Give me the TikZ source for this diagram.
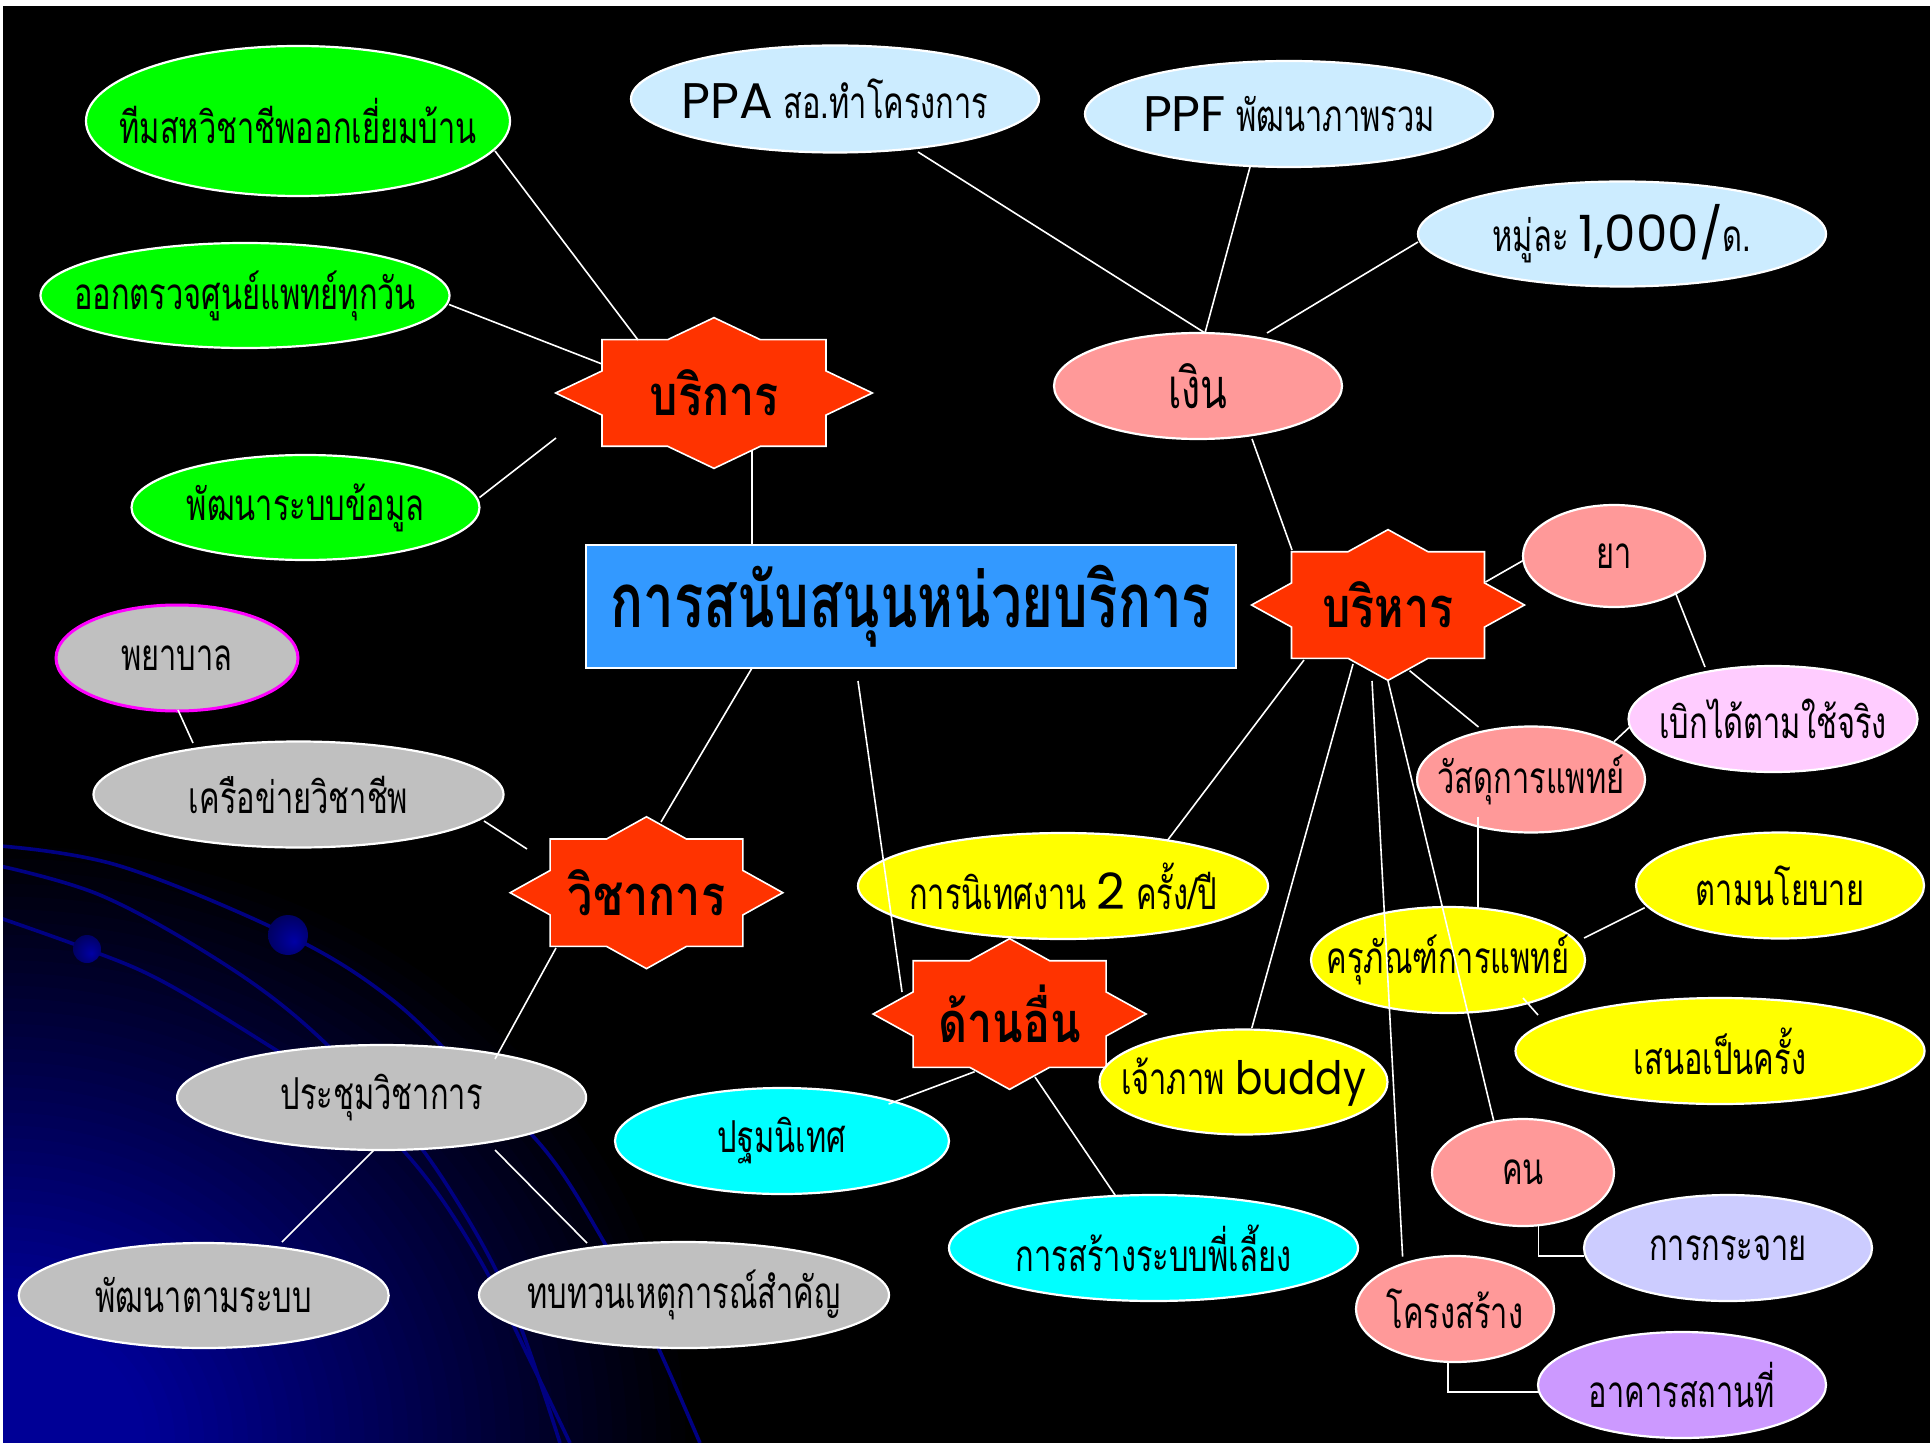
\documentclass[tikz,border=0pt]{standalone}
\usepackage{fontspec}
\usetikzlibrary{calc,shapes.geometric}
\newfontfamily\thaifont[Script=Thai,FakeStretch=0.7]{Loma}
\newfontfamily\thaistar[Script=Thai,FakeStretch=0.8]{Loma}
\newfontfamily\thaihead[Script=Thai,FakeStretch=0.72]{Loma}
\newfontfamily\latinfont{Poppins}
\newfontfamily\latinnarrow[FakeStretch=0.88]{Poppins}

\definecolor{leafgreen}{RGB}{0,255,0}
\definecolor{skyblue}{RGB}{204,236,255}
\definecolor{salmon}{RGB}{255,153,153}
\definecolor{starred}{RGB}{255,51,0}
\definecolor{hubblue}{RGB}{51,153,255}
\definecolor{silver}{RGB}{192,192,192}
\definecolor{lemon}{RGB}{255,255,0}
\definecolor{aqua}{RGB}{0,255,255}
\definecolor{blush}{RGB}{255,204,255}
\definecolor{lavender}{RGB}{204,204,255}
\definecolor{violet}{RGB}{204,153,255}
\definecolor{rosebrd}{RGB}{255,0,255}
\definecolor{glowblue}{RGB}{0,0,150}
\definecolor{swirl}{RGB}{0,0,130}
\definecolor{orbhi}{RGB}{0,0,165}
\definecolor{orblo}{RGB}{0,0,95}

\pgfdeclareradialshading{orb}{\pgfpoint{8bp}{-8bp}}{color(0bp)=(orbhi); color(30bp)=(orblo); color(50bp)=(orblo)}

\tikzset{
  bubble/.style={ellipse, draw=white, line width=1.1pt, inner sep=0pt},
  every label/.style={inner sep=0pt, text=black, font=\thaifont\fontsize{22}{26}\selectfont},
  link/.style={draw=white, line width=0.8pt},
  starfill/.style={fill=starred, draw=white, line width=0.8pt},
  startext/.style={inner sep=0pt, text=black, font=\thaistar\bfseries\fontsize{28}{32}\selectfont},
  swirlline/.style={draw=swirl, line width=1.8pt},
}

% eight-pointed star made of two overlapping squares, stretched sideways
\newcommand\octagram[6]{%
  \path[starfill, shift={(#2,#3)}, xscale=#4, yscale=#5]
    (0,-1.4142) -- (0.4142,-1) -- (1,-1) -- (1,-0.4142) -- (1.4142,0) -- (1,0.4142)
    -- (1,1) -- (0.4142,1) -- (0,1.4142) -- (-0.4142,1) -- (-1,1) -- (-1,0.4142)
    -- (-1.4142,0) -- (-1,-0.4142) -- (-1,-1) -- (-0.4142,-1) -- cycle;
  \node[startext] (#1) at (#2,#3) {#6};
}
\newcommand\lat[1]{{\latinfont\fontsize{25}{28}\selectfont #1}}

\begin{document}
\begin{tikzpicture}[x=0.5pt,y=-0.5pt]
\useasboundingbox (0,0) rectangle (1930,1443);
\fill[white] (0,0) rectangle (1930,1443);
\fill[black] (3,6) rectangle (1930,1443);

% glow and swirls in the lower left corner
\begin{scope}
  \clip (3,6) rectangle (1930,1443);
  \foreach \k in {0,...,47} {
    \pgfmathsetmacro\t{1-\k/48}
    \pgfmathsetmacro\f{min(100,max(0,(1-\t)/0.78*100))}
    \pgfmathsetmacro\rx{\t*350}
    \pgfmathsetmacro\ry{\t*305}
    \fill[glowblue!\f!black] (0,1443) ellipse [x radius=\rx pt, y radius=\ry pt];
  }
  \draw[swirlline] plot[smooth, tension=0.6] coordinates
    {(0,846) (120,866) (288,935) (390,998) (470,1075) (545,1150) (600,1235) (650,1330) (700,1443)};
  \draw[swirlline] plot[smooth, tension=0.6] coordinates
    {(0,866) (100,895) (210,955) (300,1020) (390,1110) (450,1190) (510,1300) (560,1443)};
  \draw[swirlline] plot[smooth, tension=0.6] coordinates
    {(0,918) (87,949) (160,980) (260,1040) (350,1100) (420,1170) (480,1260) (530,1360) (570,1443)};
  \shade[shading=orb] (288,935) circle [radius=10pt];
  \shade[shading=orb] (87,949) circle [radius=7pt];
\end{scope}

% category stars
\octagram{svc}{714}{393}{112}{53.3}{บริการ}
\octagram{adm}{1388}{605}{96.5}{53.3}{บริหาร}
\octagram{other}{1009.6}{1014}{96.5}{53.3}{ด้านอื่น}
\octagram{acad}{646.5}{892.7}{96.4}{53.7}{วิชาการ}

% central box
\node[draw=white, fill=hubblue, line width=1.1pt, minimum width=325pt, minimum height=61.5pt,
      inner sep=0pt, text=black, font=\thaihead\bfseries\fontsize{38}{42}\selectfont]
      (hub) at (911,606.5) {การสนับสนุนหน่วยบริการ};

% service
\node[bubble, fill=leafgreen, minimum width=212pt, minimum height=75pt, label={center:{ทีมสหวิชาชีพออกเยี่ยมบ้าน}}] (g1) at (298,121) {};
\node[bubble, fill=leafgreen, minimum width=204.5pt, minimum height=52.5pt, label={center:{ออกตรวจศูนย์แพทย์ทุกวัน}}] (g2) at (245,295.5) {};
\node[bubble, fill=leafgreen, minimum width=174pt, minimum height=52.5pt, label={center:{พัฒนาระบบข้อมูล}}] (g3) at (305.5,507.5) {};

% money
\node[bubble, fill=skyblue, minimum width=204pt, minimum height=53.5pt, label={center:{\lat{PPA} สอ.ทำโครงการ}}] (ppa) at (835,99) {};
\node[bubble, fill=skyblue, minimum width=204pt, minimum height=53pt, label={center:{\lat{PPF} พัฒนาภาพรวม}}] (ppf) at (1289,114) {};
\node[bubble, fill=skyblue, minimum width=204pt, minimum height=52.5pt, label={center:{หมู่ละ \lat{1,000/}ด.}}] (moo) at (1622,234) {};
\node[bubble, fill=salmon, minimum width=144pt, minimum height=53pt, label={[font=\thaifont\fontsize{28}{30}\selectfont]center:{เงิน}}] (money) at (1198,386) {};

% administration
\node[bubble, fill=salmon, minimum width=91pt, minimum height=51pt, label={center:{ยา}}] (ya) at (1614,556) {};
\node[bubble, fill=blush, minimum width=144.5pt, minimum height=53pt, label={center:{เบิกได้ตามใช้จริง}}] (bek) at (1773,719) {};
\node[bubble, fill=salmon, minimum width=114pt, minimum height=53pt, label={center:{วัสดุการแพทย์}}] (wasadu) at (1531,779.5) {};
\node[bubble, fill=lemon, minimum width=144pt, minimum height=53pt, label={center:{ตามนโยบาย}}] (nayobai) at (1780,885.5) {};
\node[bubble, fill=lemon, minimum width=137pt, minimum height=53pt, label={center:{ครุภัณฑ์การแพทย์}}] (krupan) at (1448,960) {};
\node[bubble, fill=lemon, minimum width=204.5pt, minimum height=53pt, label={center:{เสนอเป็นครั้ง}}] (sanoe) at (1720,1051) {};
\node[bubble, fill=salmon, minimum width=91pt, minimum height=53.5pt, label={center:{คน}}] (khon) at (1523,1172.5) {};
\node[bubble, fill=lavender, minimum width=144pt, minimum height=53pt, label={center:{การกระจาย}}] (krajai) at (1728,1248) {};
\node[bubble, fill=salmon, minimum width=99pt, minimum height=53pt, label={center:{โครงสร้าง}}] (kroang) at (1455,1309) {};
\node[bubble, fill=violet, minimum width=144pt, minimum height=53pt, label={center:{อาคารสถานที่}}] (akan) at (1682,1385) {};
\node[bubble, fill=lemon, minimum width=144pt, minimum height=52.5pt, label={center:{เจ้าภาพ {\latinnarrow\fontsize{23}{26}\selectfont buddy}}}] (buddy) at (1243.5,1082) {};
\node[bubble, fill=lemon, minimum width=205pt, minimum height=53pt, label={center:{การนิเทศงาน \lat{2} ครั้ง/ปี}}] (nithet) at (1063,886) {};

% others
\node[bubble, fill=aqua, minimum width=167pt, minimum height=53pt, label={center:{ปฐมนิเทศ}}] (pathom) at (782,1141) {};
\node[bubble, fill=aqua, minimum width=204.5pt, minimum height=53pt, label={center:{การสร้างระบบพี่เลี้ยง}}] (mentor) at (1153.5,1248) {};

% academic
\node[bubble, fill=silver, draw=rosebrd, line width=1.5pt, minimum width=121pt, minimum height=53pt, label={center:{พยาบาล}}] (nurse) at (177,658) {};
\node[bubble, fill=silver, minimum width=205pt, minimum height=53pt, label={center:{เครือข่ายวิชาชีพ}}] (network) at (298.5,794.5) {};
\node[bubble, fill=silver, minimum width=204.5pt, minimum height=52.5pt, label={center:{ประชุมวิชาการ}}] (meeting) at (381.6,1097.5) {};
\node[bubble, fill=silver, minimum width=185pt, minimum height=52.5pt, label={center:{พัฒนาตามระบบ}}] (devsys) at (203.7,1295.5) {};
\node[bubble, fill=silver, minimum width=205pt, minimum height=53pt, label={center:{ทบทวนเหตุการณ์สำคัญ}}] (review) at (684,1295) {};

% connectors
\draw[link] ($(g1)+(197,30)$) -- ($(svc)+(-76,-53)$);
\draw[link] ($(g2)+(204,9)$) -- ($(svc)+(-112,-29)$);
\draw[link] ($(g3)+(174,-10)$) -- ($(svc)+(-158,45)$);
\draw[link] ($(svc)+(38,57)$) -- ($(hub)+(-159,-61.5)$);
\draw[link] ($(ppa)+(83,53)$) -- ($(money)+(7,-53)$);
\draw[link] ($(ppf)+(-39,53)$) -- ($(money)+(7,-53)$);
\draw[link] ($(moo)+(-204,8)$) -- ($(money)+(69,-53)$);
\draw[link] ($(money)+(54,53)$) -- ($(adm)+(-96,-55)$);
\draw[link] ($(hub)+(-159,61.5)$) -- ($(acad)+(14.5,-70.7)$);
\draw[link] ($(hub)+(-53,74.5)$) -- ($(other)+(-107.6,-22)$);
\draw[link] ($(nurse)+(1,52)$) -- ($(network)+(-105.5,-51.5)$);
\draw[link] ($(network)+(185.5,26.5)$) -- ($(acad)+(-119.5,-43.7)$);
\draw[link] ($(acad)+(-90.5,55.3)$) -- ($(meeting)+(113.4,-38.5)$);
\draw[link] ($(meeting)+(-7.6,52.5)$) -- ($(devsys)+(78.3,-53.5)$);
\draw[link] ($(meeting)+(113.4,52.5)$) -- ($(review)+(-97,-52)$);
\draw[link] ($(other)+(-35,57.7)$) -- ($(pathom)+(106.6,-37)$);
\draw[link] ($(other)+(25.4,63)$) -- ($(mentor)+(-38,-52.3)$);
\draw[link] ($(adm)+(97.5,-23)$) -- ($(ya)+(-90,4)$);
\draw[link] ($(ya)+(61,35.7)$) -- ($(bek)+(-68,-52)$);
\draw[link] ($(adm)+(21.6,65.7)$) -- ($(wasadu)+(-52.5,-52.5)$);
\draw[link] ($(bek)+(-143,7.7)$) -- ($(wasadu)+(83,-37.8)$);
\draw[link] ($(wasadu)+(-53,37)$) -- ($(krupan)+(30,-52)$);
\draw[link] ($(krupan)+(136,-22)$) -- ($(nayobai)+(-135.4,22.2)$);
\draw[link] ($(krupan)+(75,38)$) -- ($(sanoe)+(-182,-36)$);
\draw[link] ($(adm)+(-84,55)$) -- ($(nithet)+(104,-45)$);
\draw[link] ($(adm)+(-35,59)$) -- ($(buddy)+(8.3,-54)$);
\draw[link] ($(adm)+(-16,76)$) -- ($(kroang)+(-52.4,-52.3)$);
\draw[link] ($(adm)+(0,76)$) -- ($(khon)+(-29.3,-51.8)$);
\draw[link] ($(khon)+(15.4,53.5)$) |- ($(krajai)+(-144,8)$);
\draw[link] ($(kroang)+(-7,53.7)$) |- ($(akan)+(-143,7)$);
\end{tikzpicture}
\end{document}
